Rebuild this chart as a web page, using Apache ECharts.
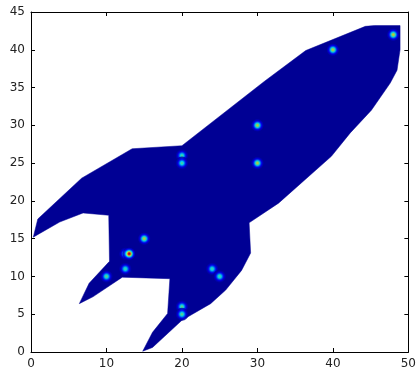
<!DOCTYPE html>
<html>
<head>
<meta charset="utf-8">
<script src="https://cdn.jsdelivr.net/npm/echarts@6/dist/echarts.min.js"></script>
<style>html,body{margin:0;padding:0;background:#fff;}#c{width:419px;height:371px;}</style>
</head>
<body>
<div id="c"></div>
<script>
// Rocket outline (data coordinates)
const rocketX = [0.3, 0.9, 6.7, 13.4, 20.0, 30.9, 36.4, 44.3, 45.5, 48.9, 48.9, 48.5, 47.6, 45.1, 42.3, 39.8, 32.8, 28.9, 29.1, 27.9, 25.8, 23.8, 20.0, 16.1, 14.8, 16.1, 18.1, 18.4, 12.1, 8.2, 6.4, 7.7, 10.4, 10.3, 6.9, 3.8];
const rocketY = [15.2, 17.6, 23.0, 26.9, 27.3, 35.8, 39.9, 43.1, 43.2, 43.2, 40.0, 37.3, 35.6, 32.0, 29.0, 25.9, 19.7, 17.1, 13.1, 10.8, 8.2, 6.4, 4.2, 0.6, 0.1, 2.6, 5.1, 9.7, 9.9, 7.3, 6.4, 9.1, 12.0, 18.1, 18.4, 17.2];
// Hot spots
const spotX = [48, 40, 30, 30, 20, 20, 15, 12.5, 13, 12.5, 10, 24, 25, 20, 20];
const spotY = [42, 40, 30, 25, 26, 25, 15, 13, 13, 11, 10, 11, 10, 6, 5];
const spotV = [0.62, 0.6, 0.6, 0.6, 0.47, 0.47, 0.6, 0.45, 0.92, 0.45, 0.5, 0.45, 0.47, 0.5, 0.5];
const xTicks = [0, 10, 20, 30, 40, 50];
const yTicks = [0, 5, 10, 15, 20, 25, 30, 35, 40, 45];

function clip(v){return Math.max(0, Math.min(1, v));}
function jet(v){
  const r = clip(1.5 - Math.abs(4*v - 3));
  const g = clip(1.5 - Math.abs(4*v - 2));
  const b = clip(1.5 - Math.abs(4*v - 1));
  return 'rgb(' + Math.round(r*255) + ',' + Math.round(g*255) + ',' + Math.round(b*255) + ')';
}
const base = 0.02;
const navy = jet(base);
function blobColor(v){
  const stops = [];
  for (let i = 0; i <= 12; i++) {
    const r = i / 12;
    const val = base + (v - base) * Math.exp(-(r*r) / (2*0.36*0.36));
    stops.push({offset: r, color: jet(i === 12 ? base : val)});
  }
  return new echarts.graphic.RadialGradient(0.5, 0.5, 0.5, stops);
}

const chart = echarts.init(document.getElementById('c'), null, {renderer: 'canvas'});
const axisCommon = {
  type: 'value',
  splitLine: {show: false},
  axisLine: {show: true, onZero: false, lineStyle: {color: '#000', width: 1}},
  axisTick: {show: true, inside: true, length: 4, lineStyle: {color: '#000'}},
  axisLabel: {color: '#222', fontFamily: 'DejaVu Sans', fontSize: 12, margin: 6}
};
chart.setOption({
  animation: false,
  grid: {left: 31, right: 9, top: 12, bottom: 19, containLabel: false},
  xAxis: [
    Object.assign({}, axisCommon, {min: 0, max: 50, interval: 10, position: 'bottom'}),
    Object.assign({}, axisCommon, {min: 0, max: 50, interval: 10, position: 'top', axisLabel: {show: false}})
  ],
  yAxis: [
    Object.assign({}, axisCommon, {min: 0, max: 45, interval: 5, position: 'left'}),
    Object.assign({}, axisCommon, {min: 0, max: 45, interval: 5, position: 'right', axisLabel: {show: false}})
  ],
  series: [
    {
      type: 'custom',
      clip: true,
      data: rocketX.map((x, i) => [x, rocketY[i]]),
      renderItem: function(params, api){
        if (params.dataIndex !== 0) return null;
        return {
          type: 'polygon',
          shape: {points: rocketX.map((x, i) => api.coord([x, rocketY[i]]))},
          style: {fill: navy, stroke: navy, lineWidth: 0.5}
        };
      },
      silent: true
    },
    {
      type: 'scatter',
      symbol: 'circle',
      symbolSize: 13,
      silent: true,
      data: spotX.map((x, i) => ({value: [x, spotY[i]], itemStyle: {color: blobColor(spotV[i])}}))
    }
  ]
});
</script>
</body>
</html>
